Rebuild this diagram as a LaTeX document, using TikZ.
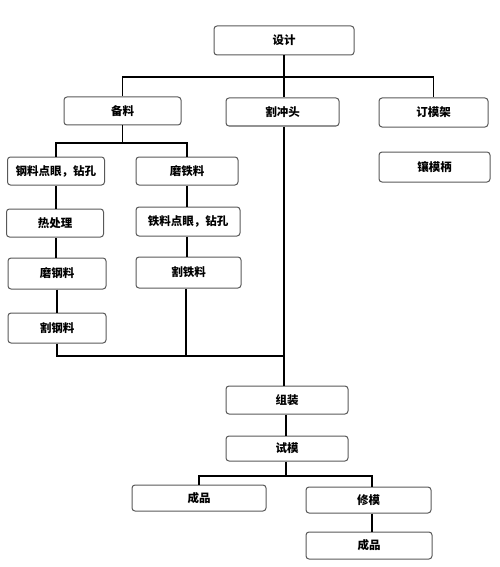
\documentclass[tikz,border=0pt]{standalone}
\usepackage{fontspec}
\newfontfamily\cjk{Noto Sans CJK SC}
\tikzset{
  box/.style={draw=black!65, line width=1pt, rounded corners=3pt, fill=white,
    inner sep=0pt, font=\cjk\bfseries\fontsize{11.5}{13}\selectfont},
  link/.style={line width=1.4pt}
}
\begin{document}
\begin{tikzpicture}[x=1pt,y=-1pt]
  \useasboundingbox (0,0) rectangle (500,567);
  % boxes
  \node[box, minimum width=140pt, minimum height=29pt] (sheji) at (284,40.5) {设计};
  \node[box, minimum width=117pt, minimum height=28pt] (beiliao) at (122.5,111) {备料};
  \node[box, minimum width=113pt, minimum height=28pt] (chongtou) at (282.5,112) {割冲头};
  \node[box, minimum width=109pt, minimum height=29pt] (mojia) at (433.5,112.5) {订模架};
  \node[box, minimum width=111pt, minimum height=30pt] (mobing) at (434.5,167) {镶模柄};
  \node[box, minimum width=97pt, minimum height=28pt] (gangdian) at (56,171) {钢料点眼，钻孔};
  \node[box, minimum width=97pt, minimum height=28pt] (rechuli) at (55,223) {热处理};
  \node[box, minimum width=98pt, minimum height=31pt] (mogang) at (57,273.5) {磨钢料};
  \node[box, minimum width=98pt, minimum height=30pt] (gegang) at (57,328) {割钢料};
  \node[box, minimum width=102pt, minimum height=28pt] (motie) at (187,171) {磨铁料};
  \node[box, minimum width=104pt, minimum height=29pt] (tiedian) at (188,221.5) {铁料点眼，钻孔};
  \node[box, minimum width=105pt, minimum height=31pt] (getie) at (188.5,272.5) {割铁料};
  \node[box, minimum width=122pt, minimum height=28pt] (zuzhuang) at (287,400) {组装};
  \node[box, minimum width=122pt, minimum height=25pt] (shimo) at (287,448.5) {试模};
  \node[box, minimum width=134pt, minimum height=26pt] (chengpin1) at (199,498) {成品};
  \node[box, minimum width=125pt, minimum height=26pt] (xiumo) at (368.5,500) {修模};
  \node[box, minimum width=126pt, minimum height=27pt] (chengpin2) at (369,545.5) {成品};
  % branch points
  \coordinate (fen1) at (284,77);
  \coordinate (fen2) at (122.5,143);
  \coordinate (hui) at (284,356);
  \coordinate (fen3) at (286,476);
  % connectors
  \draw[link] (sheji.south) -- (fen1);
  \draw[link] (beiliao.north) |- (fen1) -| (mojia.north);
  \draw[link] (fen1) -- (chongtou.north -| fen1);
  \draw[link] (beiliao.south) -- (fen2);
  \draw[link] (gangdian.north) |- (fen2) -| (motie.north);
  \draw[link] (gangdian.south) -- (gangdian.south |- rechuli.north);
  \draw[link] (mogang.north -| gangdian.south) -- (gangdian.south |- rechuli.south);
  \draw[link] (mogang.south) -- (gegang.north);
  \draw[link] (motie.south) -- (motie.south |- tiedian.north);
  \draw[link] (motie.south |- tiedian.south) -- (motie.south |- getie.north);
  \draw[link] (gegang.south) |- (hui);
  \draw[link] (getie.south -| 186,0) -- (186,356);
  \draw[link] (chongtou.south -| fen1) -- (fen1 |- zuzhuang.north);
  \draw[link] (zuzhuang.south -| fen3) -- (fen3 |- shimo.north);
  \draw[link] (shimo.south -| fen3) -- (fen3);
  \draw[link] (chengpin1.north) |- (fen3) -| (xiumo.north -| 372,0);
  \draw[link] (xiumo.south -| 372,0) -- (372,0 |- chengpin2.north);
\end{tikzpicture}
\end{document}
